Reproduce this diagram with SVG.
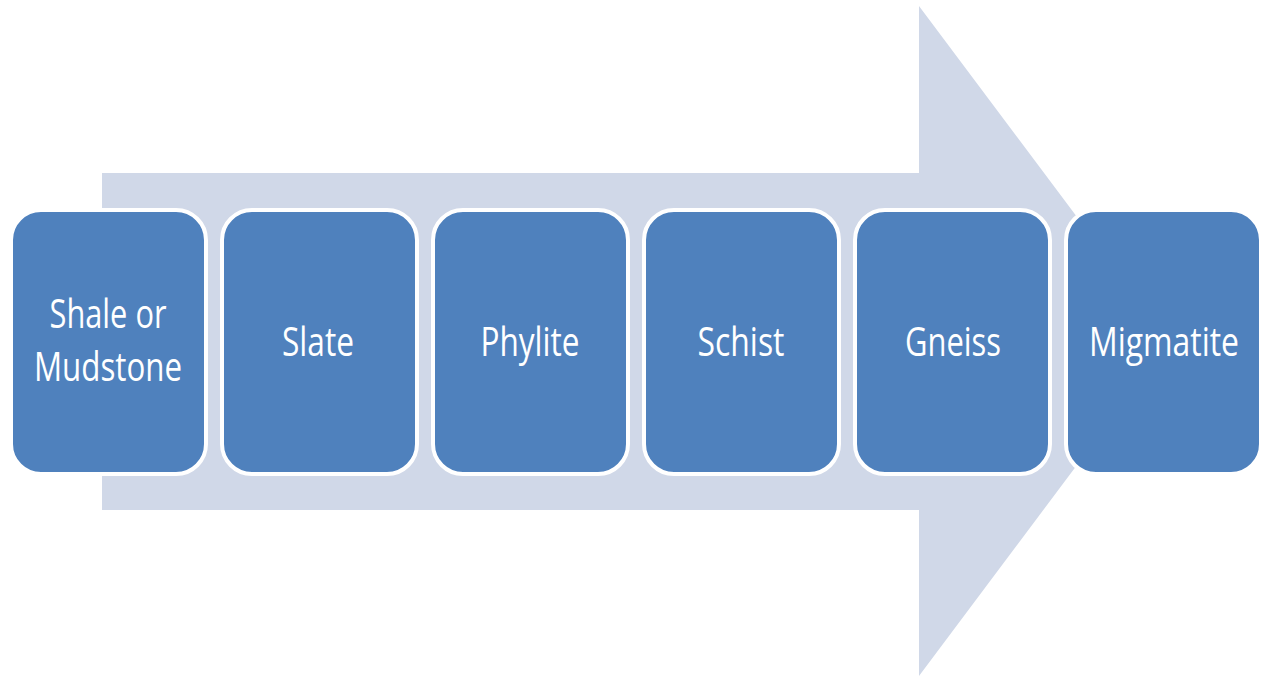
<svg xmlns="http://www.w3.org/2000/svg" width="1266" height="680" viewBox="0 0 1266 680">
<style>
.box{fill:#4F81BD;stroke:#FFFFFF;stroke-width:4}
.lbl{fill:#FFFFFF;font-family:"Open Sans","Liberation Sans",sans-serif;font-size:41px;text-anchor:middle}
</style>
<rect width="1266" height="680" fill="#FFFFFF"/>
<g id="arrow">
<polygon points="102,173 919,173 919,6 1080,221 1080,461 919,676 919,510 102,510" fill="#D0D8E8"/>
</g>
<g id="connectors"></g>
<g id="node1"><rect class="box" x="11" y="210" width="195" height="264" rx="30"/>
<text class="lbl" x="108" y="328" textLength="117" lengthAdjust="spacingAndGlyphs">Shale or</text>
<text class="lbl" x="108" y="381" textLength="148" lengthAdjust="spacingAndGlyphs">Mudstone</text></g>
<g id="node2"><rect class="box" x="222" y="210" width="195" height="264" rx="30"/>
<text class="lbl" x="318" y="356" textLength="72" lengthAdjust="spacingAndGlyphs">Slate</text></g>
<g id="node3"><rect class="box" x="433" y="210" width="195" height="264" rx="30"/>
<text class="lbl" x="530" y="356" textLength="99" lengthAdjust="spacingAndGlyphs">Phylite</text></g>
<g id="node4"><rect class="box" x="644" y="210" width="195" height="264" rx="30"/>
<text class="lbl" x="741" y="356" textLength="87" lengthAdjust="spacingAndGlyphs">Schist</text></g>
<g id="node5"><rect class="box" x="855" y="210" width="195" height="264" rx="30"/>
<text class="lbl" x="953" y="356" textLength="96" lengthAdjust="spacingAndGlyphs">Gneiss</text></g>
<g id="node6"><rect class="box" x="1066" y="210" width="195" height="264" rx="30"/>
<text class="lbl" x="1164" y="356" font-size="39" textLength="150" lengthAdjust="spacingAndGlyphs">Migmatite</text></g>
</svg>
